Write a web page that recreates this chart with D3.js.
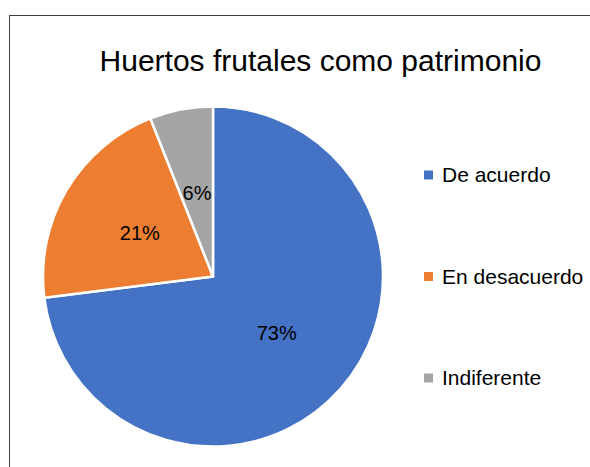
<!DOCTYPE html>
<html>
<head>
<meta charset="utf-8">
<script src="https://cdn.jsdelivr.net/npm/d3@7"></script>
<style>
  body { margin: 0; background: #fff; }
  text { font-family: "Liberation Sans", Arial, sans-serif; fill: #000; }
</style>
</head>
<body>
<div id="chart"></div>
<script>
// data
var categories = ["De acuerdo", "En desacuerdo", "Indiferente"];
var values = [73, 21, 6];
var colors = ["#4472C4", "#ED7D31", "#A5A5A5"];

var width = 590, height = 467;
var radius = 170, cx = 213, cy = 276.5;

var svg = d3.select("#chart")
  .append("svg")
    .attr("width", width)
    .attr("height", height);

// chart border (only top and left edges fall inside the picture)
svg.append("rect")
  .attr("x", 9.5).attr("y", 15.5)
  .attr("width", 620).attr("height", 500)
  .attr("fill", "none")
  .attr("stroke", "#404040")
  .attr("stroke-width", 1);

svg.append("text")
  .attr("x", 320.5).attr("y", 71)
  .attr("text-anchor", "middle")
  .style("font-size", "30px")
  .text("Huertos frutales como patrimonio");

var pie = d3.pie().sort(null).value(function(d) { return d; });
var arc = d3.arc().innerRadius(0).outerRadius(radius);
var labelArc = d3.arc().innerRadius(radius * 0.5).outerRadius(radius * 0.5);

var g = svg.append("g")
  .attr("transform", "translate(" + cx + "," + cy + ")");

var slices = pie(values);

g.selectAll("path")
  .data(slices)
  .enter().append("path")
    .attr("d", arc)
    .attr("fill", function(d, i) { return colors[i]; })
    .attr("stroke", "#fff")
    .attr("stroke-width", 2.5)
    .attr("stroke-linejoin", "round");

g.selectAll("text.lbl")
  .data(slices)
  .enter().append("text")
    .attr("class", "lbl")
    .attr("transform", function(d) { return "translate(" + labelArc.centroid(d) + ")"; })
    .attr("text-anchor", "middle")
    .attr("dy", "0.35em")
    .style("font-size", "20px")
    .text(function(d) { return d.value + "%"; });

// legend
var legendY = d3.scalePoint()
  .domain(categories)
  .range([175, 378]);

var legend = svg.selectAll("g.legend")
  .data(categories)
  .enter().append("g")
    .attr("class", "legend")
    .attr("transform", function(d) { return "translate(424," + legendY(d) + ")"; });

legend.append("rect")
  .attr("x", 0).attr("y", -4.5)
  .attr("width", 9).attr("height", 9)
  .attr("fill", function(d, i) { return colors[i]; });

legend.append("text")
  .attr("x", 18).attr("y", 0)
  .attr("dy", "0.35em")
  .style("font-size", "21px")
  .text(function(d) { return d; });
</script>
</body>
</html>
